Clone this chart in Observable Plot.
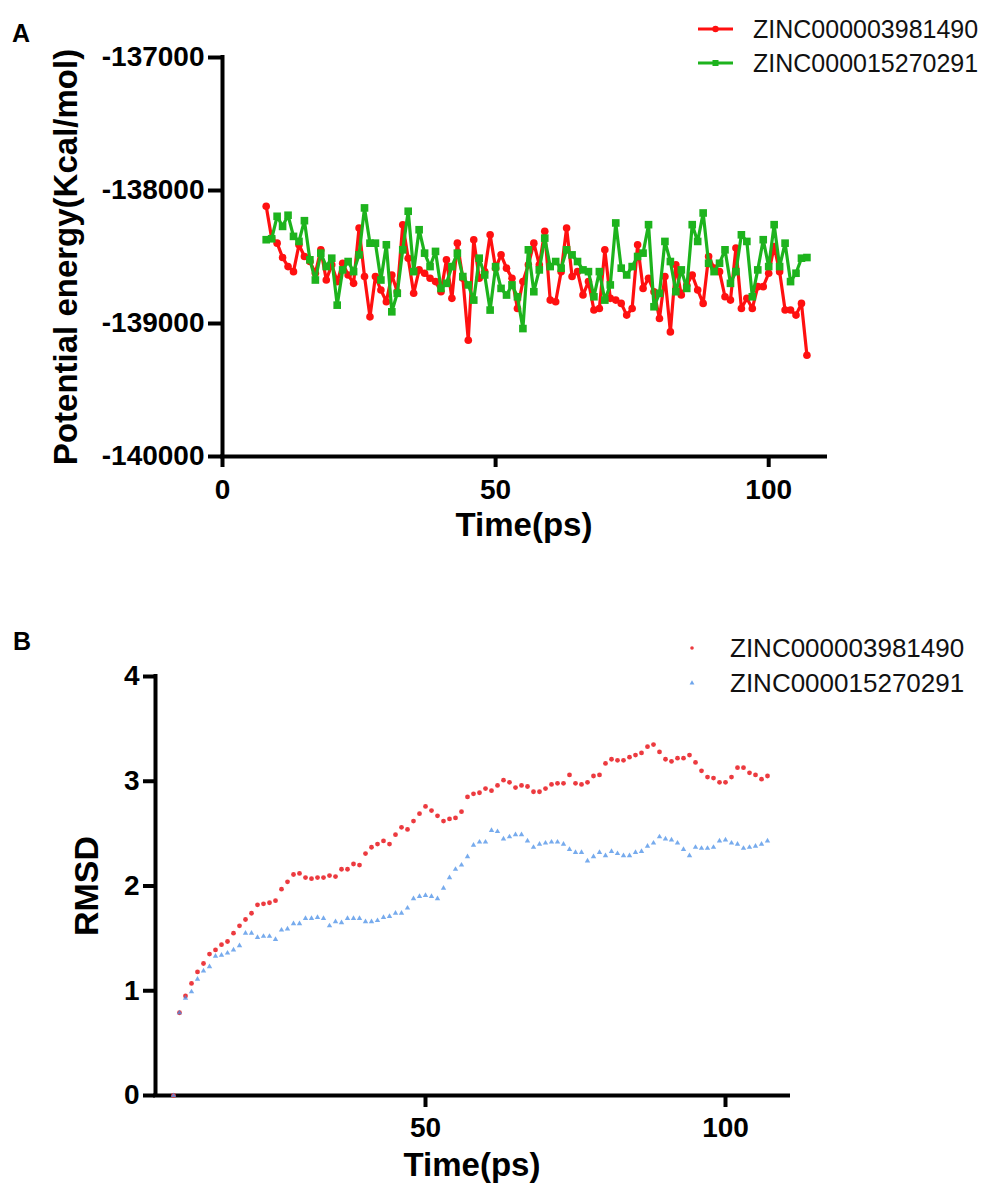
<!DOCTYPE html>
<html>
<head>
<meta charset="utf-8">
<script src="https://cdn.jsdelivr.net/npm/d3@7"></script>
<script src="https://cdn.jsdelivr.net/npm/@observablehq/plot@0.6"></script>
<style>
  html, body { margin: 0; padding: 0; background: #fff; }
  #root { position: relative; width: 982px; height: 1197px; overflow: hidden; font-family: "Liberation Sans", Arial, sans-serif; }
  .panel { position: absolute; left: 0; }
  #overlay { position: absolute; left: 0; top: 0; pointer-events: none; }
</style>
</head>
<body>
<div id="root">
  <div id="panelA" class="panel" style="top:0px"></div>
  <div id="panelB" class="panel" style="top:600px"></div>
  <svg id="overlay" width="982" height="1197"></svg>
</div>
<script>
// ---------- data ----------
const time = [8,9,10,11,12,13,14,15,16,17,18,19,20,21,22,23,24,25,26,27,
  28,29,30,31,32,33,34,35,36,37,38,39,40,41,42,43,44,45,46,47,
  48,49,50,51,52,53,54,55,56,57,58,59,60,61,62,63,64,65,66,67,
  68,69,70,71,72,73,74,75,76,77,78,79,80,81,82,83,84,85,86,87,
  88,89,90,91,92,93,94,95,96,97,98,99,100,101,102,103,104,105,106,107];

const seriesNames = ["ZINC000003981490", "ZINC000015270291"];

// Panel A: potential energy (Kcal/mol)
const energyZ3981490 = [
  -138118,-138358,-138396,-138504,-138572,-138610,-138408,-138496,-138534,-138622,
  -138446,-138673,-138559,-138685,-138547,-138635,-138698,-138282,-138647,-138950,
  -138647,-138748,-138836,-138635,-138761,-138257,-138509,-138773,-138597,-138622,
  -138660,-138685,-138761,-138521,-138811,-138396,-138660,-139126,-138370,-138660,
  -138610,-138333,-138584,-138484,-138584,-138660,-138887,-138685,-138559,-138396,
  -138559,-138307,-138824,-138836,-138610,-138282,-138647,-138610,-138786,-138685,
  -138899,-138887,-138446,-138811,-138824,-138849,-138937,-138887,-138408,-138736,
  -138660,-138761,-138962,-138647,-139063,-138559,-138786,-138710,-138635,-138748,
  -138849,-138496,-138584,-138610,-138799,-138824,-138433,-138887,-138811,-138887,
  -138723,-138723,-138622,-138421,-138610,-138899,-138899,-138937,-138849,-139239];

const energyZ15270291 = [
  -138370,-138363,-138194,-138270,-138186,-138345,-138383,-138227,-138521,-138673,
  -138471,-138572,-138509,-138862,-138597,-138534,-138610,-138484,-138131,-138396,
  -138396,-138673,-138408,-138912,-138773,-138446,-138156,-138610,-138295,-138471,
  -138572,-138458,-138736,-138698,-138572,-138471,-138647,-138710,-138824,-138509,
  -138635,-138899,-138572,-138736,-138786,-138710,-138799,-139038,-138446,-138761,
  -138597,-138358,-138572,-138534,-138584,-138446,-138484,-138534,-138597,-138610,
  -138799,-138610,-138824,-138710,-138244,-138584,-138635,-138572,-138496,-138471,
  -138257,-138874,-138773,-138383,-138534,-138761,-138597,-138736,-138257,-138383,
  -138169,-138547,-138610,-138547,-138446,-138698,-138610,-138333,-138383,-138799,
  -138597,-138370,-138572,-138257,-138572,-138396,-138685,-138622,-138509,-138504];

// Panel B: RMSD
const rmsdZ3981490 = [
  0, 0.79, 0.95, 1.07, 1.18, 1.26, 1.35, 1.39, 1.44, 1.47,
  1.55, 1.62, 1.68, 1.74, 1.82, 1.83, 1.84, 1.86, 1.97, 2.04,
  2.11, 2.12, 2.08, 2.07, 2.08, 2.08, 2.10, 2.09, 2.16, 2.16,
  2.21, 2.20, 2.31, 2.37, 2.40, 2.43, 2.40, 2.49, 2.56, 2.54,
  2.62, 2.69, 2.76, 2.72, 2.67, 2.62, 2.64, 2.65, 2.71, 2.85,
  2.88, 2.89, 2.93, 2.91, 2.96, 3.01, 2.99, 2.94, 2.96, 2.95,
  2.90, 2.90, 2.93, 2.97, 2.98, 2.98, 3.06, 2.98, 2.97, 2.99,
  3.05, 3.06, 3.17, 3.21, 3.20, 3.20, 3.23, 3.25, 3.27, 3.33,
  3.35, 3.28, 3.21, 3.19, 3.22, 3.22, 3.25, 3.18, 3.10, 3.04,
  3.03, 2.99, 2.99, 3.04, 3.13, 3.13, 3.08, 3.06, 3.02, 3.05];

const rmsdZ15270291 = [
  0, 0.79, 0.93, 0.99, 1.11, 1.19, 1.23, 1.33, 1.34, 1.36,
  1.39, 1.43, 1.55, 1.55, 1.51, 1.52, 1.52, 1.49, 1.58, 1.59,
  1.64, 1.64, 1.69, 1.69, 1.70, 1.69, 1.62, 1.66, 1.65, 1.69,
  1.69, 1.69, 1.66, 1.66, 1.67, 1.70, 1.71, 1.74, 1.74, 1.79,
  1.88, 1.90, 1.91, 1.90, 1.88, 1.98, 2.08, 2.16, 2.20, 2.28,
  2.39, 2.42, 2.42, 2.53, 2.52, 2.45, 2.47, 2.49, 2.49, 2.43,
  2.37, 2.40, 2.41, 2.42, 2.42, 2.40, 2.35, 2.32, 2.32, 2.24,
  2.28, 2.32, 2.29, 2.33, 2.31, 2.29, 2.29, 2.32, 2.33, 2.38,
  2.41, 2.47, 2.45, 2.44, 2.41, 2.35, 2.29, 2.37, 2.36, 2.36,
  2.37, 2.43, 2.44, 2.41, 2.40, 2.36, 2.37, 2.38, 2.40, 2.43];

const xTicksA = [0, 50, 100];
const yTicksA = [-137000, -138000, -139000, -140000];
const xTicksB = [50, 100];
const yTicksB = [0, 1, 2, 3, 4];

// ---------- styles ----------
const FONT = '"Liberation Sans", Arial, Helvetica, sans-serif';
const RED_A = "#ff1010", GREEN_A = "#1db31d";
const RED_B = "#ec3a3f", BLUE_B = "#4a8fe7";
const TICK_FS = 28, TITLE_FS = 33;

const dataA = time.map((t, i) => ({t, a: energyZ3981490[i], b: energyZ15270291[i]}));
const dataB = time.map((t, i) => ({t, a: rmsdZ3981490[i], b: rmsdZ15270291[i]}));

const baseStyle = {fontFamily: FONT, fontWeight: "bold", fontSize: TICK_FS + "px", color: "#000", background: "transparent", overflow: "visible"};

const plotA = Plot.plot({
  width: 982, height: 600,
  marginLeft: 222, marginRight: 157, marginTop: 57, marginBottom: 144,
  x: {domain: [0, 110.4]},
  y: {domain: [-140000, -137000]},
  style: baseStyle,
  marks: [
    Plot.ruleX([0], {strokeWidth: 4, strokeLinecap: "square"}),
    Plot.ruleY([-140000], {strokeWidth: 4, strokeLinecap: "square"}),
    Plot.axisX({ticks: xTicksA, tickSize: 11, tickPadding: 12, strokeWidth: 4, fontSize: TICK_FS, fontWeight: "bold", label: null, tickFormat: d => String(d)}),
    Plot.axisY({ticks: yTicksA, tickSize: 14, tickPadding: 4, strokeWidth: 4, fontSize: TICK_FS, fontWeight: "bold", label: null, tickFormat: d => String(d)}),
    Plot.line(dataA, {x: "t", y: "a", stroke: RED_A, strokeWidth: 3.2}),
    Plot.dot(dataA, {x: "t", y: "a", fill: RED_A, r: 3.8, symbol: "circle"}),
    Plot.line(dataA, {x: "t", y: "b", stroke: GREEN_A, strokeWidth: 3.2}),
    Plot.dot(dataA, {x: "t", y: "b", fill: GREEN_A, r: 4.3, symbol: "square"}),
    Plot.text(["Time(ps)"], {text: d => d, frameAnchor: "bottom", dy: 79, textAnchor: "middle", fontSize: TITLE_FS, fontWeight: "bold", fill: "#000"}),
    Plot.text(["Potential energy(Kcal/mol)"], {text: d => d, frameAnchor: "left", dx: -156, rotate: -90, textAnchor: "middle", fontSize: TITLE_FS, fontWeight: "bold", fill: "#000"})
  ]
});
document.getElementById("panelA").appendChild(plotA);

const plotB = Plot.plot({
  width: 982, height: 597,
  marginLeft: 155, marginRight: 194, marginTop: 76, marginBottom: 102,
  x: {domain: [5, 110.5]},
  y: {domain: [0, 4]},
  style: baseStyle,
  marks: [
    Plot.ruleX([5], {strokeWidth: 4, strokeLinecap: "square"}),
    Plot.ruleY([0], {strokeWidth: 4, strokeLinecap: "square"}),
    Plot.axisX({ticks: xTicksB, tickSize: 12, tickPadding: 10, strokeWidth: 4, fontSize: TICK_FS, fontWeight: "bold", label: null, tickFormat: d => String(d)}),
    Plot.axisY({ticks: yTicksB, tickSize: 12, tickPadding: 4, strokeWidth: 4, fontSize: TICK_FS, fontWeight: "bold", label: null, tickFormat: d => String(d)}),
    Plot.dot(dataB, {x: "t", y: "a", fill: RED_B, r: 2.4, symbol: "circle"}),
    Plot.dot(dataB, {x: "t", y: "b", fill: BLUE_B, fillOpacity: 0.75, r: 2.0, symbol: "triangle"}),
    Plot.text(["Time(ps)"], {text: d => d, frameAnchor: "bottom", dy: 80, textAnchor: "middle", fontSize: TITLE_FS, fontWeight: "bold", fill: "#000"}),
    Plot.text(["RMSD"], {text: d => d, frameAnchor: "left", dx: -68, rotate: -90, textAnchor: "middle", fontSize: TITLE_FS + 1, fontWeight: "bold", fill: "#000"})
  ]
});
document.getElementById("panelB").appendChild(plotB);

// ---------- overlay: panel letters + legends ----------
const ov = d3.select("#overlay");
ov.append("text").attr("x", 12).attr("y", 42).attr("font-family", FONT).attr("font-weight", "bold").attr("font-size", 25).text("A");
ov.append("text").attr("x", 13).attr("y", 650).attr("font-family", FONT).attr("font-weight", "bold").attr("font-size", 25).text("B");

// legend A
const legA = [{name: seriesNames[0], color: RED_A, sym: "circle", cy: 29}, {name: seriesNames[1], color: GREEN_A, sym: "square", cy: 63}];
legA.forEach(d => {
  ov.append("line").attr("x1", 698).attr("x2", 733).attr("y1", d.cy).attr("y2", d.cy).attr("stroke", d.color).attr("stroke-width", 3);
  if (d.sym === "circle") ov.append("circle").attr("cx", 715.5).attr("cy", d.cy).attr("r", 3.2).attr("fill", d.color);
  else ov.append("rect").attr("x", 712.5).attr("y", d.cy - 3).attr("width", 6).attr("height", 6).attr("fill", d.color);
  ov.append("text").attr("x", 753).attr("y", d.cy + 9).attr("font-family", FONT).attr("font-size", 25).attr("fill", "#111").text(d.name);
});

// legend B
const legB = [{name: seriesNames[0], color: RED_B, sym: "circle", cy: 648}, {name: seriesNames[1], color: BLUE_B, sym: "triangle", cy: 683}];
legB.forEach(d => {
  if (d.sym === "circle") ov.append("circle").attr("cx", 692).attr("cy", d.cy).attr("r", 1.8).attr("fill", d.color);
  else ov.append("path").attr("transform", `translate(692,${d.cy})`).attr("d", d3.symbol(d3.symbolTriangle, 10)()).attr("fill", d.color).attr("fill-opacity", 0.8);
  ov.append("text").attr("x", 730).attr("y", d.cy + 9).attr("font-family", FONT).attr("font-size", 26).attr("fill", "#111").text(d.name);
});
</script>
</body>
</html>
